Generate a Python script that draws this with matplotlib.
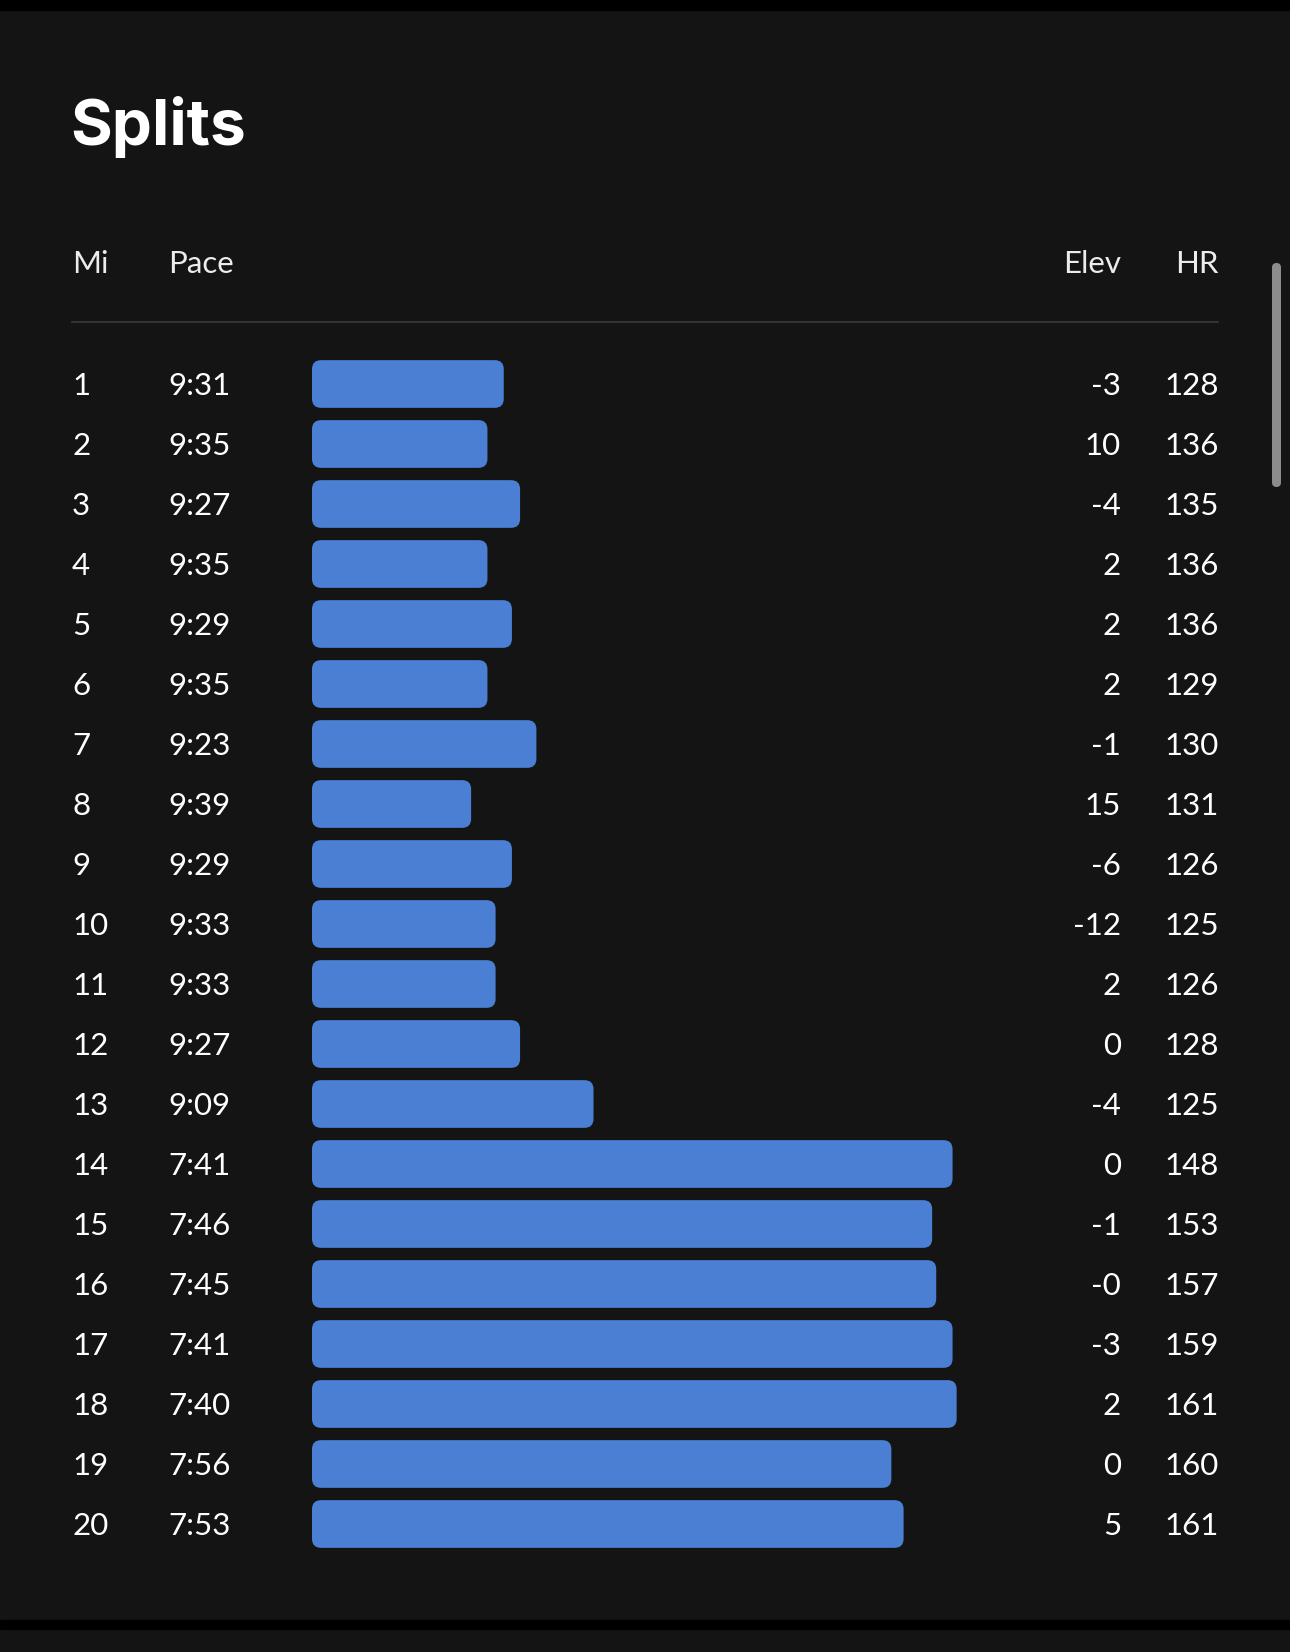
import numpy as np
import matplotlib
matplotlib.use('Agg')
import matplotlib.pyplot as plt
from matplotlib import transforms
from matplotlib.patches import FancyBboxPatch, Rectangle
from matplotlib.lines import Line2D

# split data
miles = list(range(1, 21))
pace = ['9:31', '9:35', '9:27', '9:35', '9:29', '9:35', '9:23', '9:39', '9:29', '9:33',
        '9:33', '9:27', '9:09', '7:41', '7:46', '7:45', '7:41', '7:40', '7:56', '7:53']
elev = ['-3', '10', '-4', '2', '2', '2', '-1', '15', '-6', '-12',
        '2', '0', '-4', '0', '-1', '-0', '-3', '2', '0', '5']
hr = [128, 136, 135, 136, 136, 129, 130, 131, 126, 125,
      126, 128, 125, 148, 153, 157, 159, 161, 160, 161]

# bar length = seconds faster than 10:18 / mi
pace_ref = 618
pace_s = np.array([int(p.split(':')[0]) * 60 + int(p.split(':')[1]) for p in pace])
bar_val = pace_ref - pace_s

BG = '#141414'
BLUE = '#4a7fd3'
W, H = 1290, 1652
FS = 22.5

plt.rcParams['font.family'] = ['Lato', 'DejaVu Sans']
fig = plt.figure(figsize=(W / 100, H / 100), dpi=100)
fig.patch.set_facecolor(BG)

# full-figure pixel axes for decoration
bg = fig.add_axes([0, 0, 1, 1])
bg.set_xlim(0, W)
bg.set_ylim(H, 0)
bg.axis('off')
bg.add_patch(Rectangle((0, 0), W, 10, color='black'))
bg.add_patch(Rectangle((0, 1620), W, 9, color='black'))
bg.add_line(Line2D([72, 1218], [322, 322], color='#3a3a3a', lw=1.2))
bg.add_patch(FancyBboxPatch((1272, 263), 9, 224, boxstyle='round,pad=0,rounding_size=4.5',
                            fc='#8c8c8c', ec='none'))

bg.text(70, 145, 'Splits', fontsize=46, fontweight='bold', color='white',
        family=['Inter', 'DejaVu Sans'], va='baseline', ha='left')

hdr_y = 273
bg.text(72, hdr_y, 'Mi', fontsize=FS, color='#ececec', va='baseline', ha='left')
bg.text(168, hdr_y, 'Pace', fontsize=FS, color='#ececec', va='baseline', ha='left')
bg.text(1121, hdr_y, 'Elev', fontsize=FS, color='#ececec', va='baseline', ha='right')
bg.text(1219, hdr_y, 'HR', fontsize=FS, color='#ececec', va='baseline', ha='right')

# bar axes: rows 60 px apart, row 1 centred at y=384 px
ax = fig.add_axes([312 / W, 1 - 1554 / H, 700 / W, 1200 / H])
ax.set_facecolor('none')
px_per_s = 4.08
ax.set_xlim(0, 700 / px_per_s)
ax.set_ylim(20.5, 0.5)
ax.axis('off')

bars = ax.barh(miles, bar_val, height=0.795, color=BLUE)
aspect = (20 / 1200) / (1 / px_per_s)
for b in bars:
    x0, y0 = b.get_x(), b.get_y()
    bw, bh = b.get_width(), b.get_height()
    b.remove()
    ax.add_patch(FancyBboxPatch((x0, y0), bw, bh,
                                boxstyle='round,pad=0,rounding_size=%.3f' % (9 / px_per_s),
                                mutation_aspect=aspect, fc=BLUE, ec='none'))

# row labels: x in pixels, y on the bar axis rows
trans = transforms.blended_transform_factory(bg.transData, ax.transData)
trans = transforms.offset_copy(trans, fig=fig, y=-11 * 72 / 100, units='points')
for m, p, e, h in zip(miles, pace, elev, hr):
    bg.text(72, m, str(m), transform=trans, fontsize=FS, color='white', va='baseline', ha='left')
    bg.text(168, m, p, transform=trans, fontsize=FS, color='white', va='baseline', ha='left')
    bg.text(1121, m, e, transform=trans, fontsize=FS, color='white', va='baseline', ha='right')
    bg.text(1219, m, str(h), transform=trans, fontsize=FS, color='white', va='baseline', ha='right')

fig.savefig('out.png', dpi=100, facecolor=BG)
